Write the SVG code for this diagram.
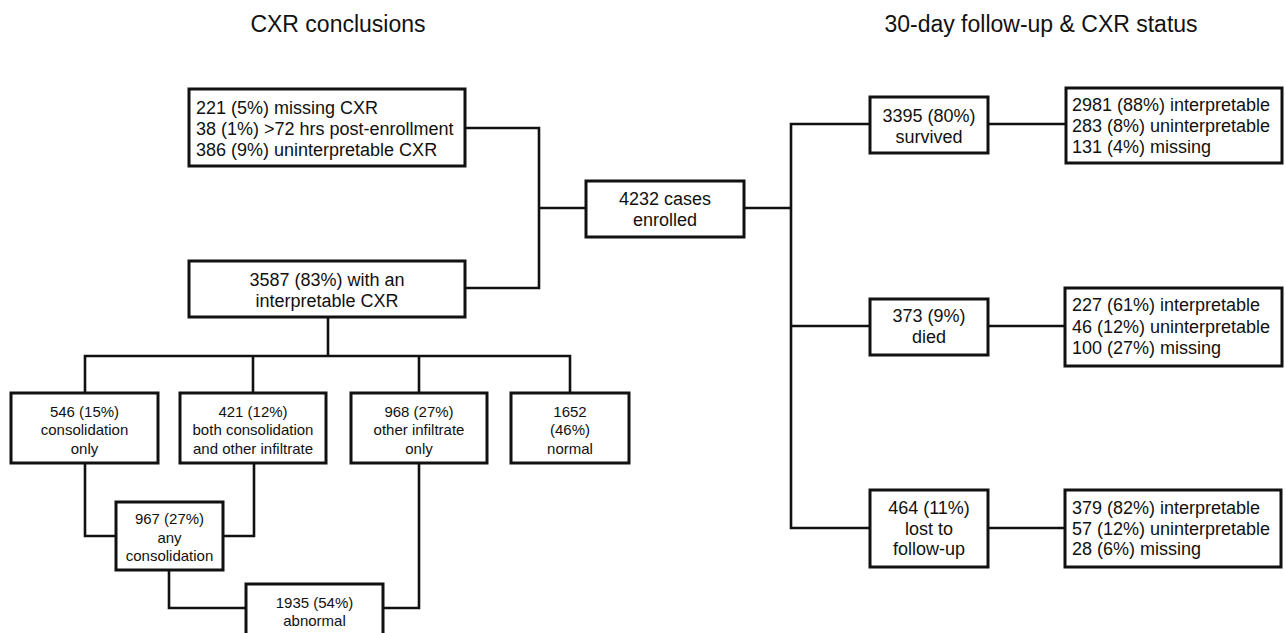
<svg xmlns="http://www.w3.org/2000/svg" width="1285" height="633" viewBox="0 0 1285 633">
<style>
.box{fill:#fff;stroke:#111;stroke-width:3}
.ln{fill:none;stroke:#111;stroke-width:2.6}
text{font-family:"Liberation Sans",Arial,sans-serif;fill:#111;dominant-baseline:central}
.t{font-size:23px;text-anchor:middle}
.m{font-size:18px}
.c{text-anchor:middle}
.s{font-size:15px;text-anchor:middle}
</style>
<rect width="1285" height="633" fill="#fff"/>
<text class="t" x="338" y="24">CXR conclusions</text>
<text class="t" x="1041" y="24">30-day follow-up &amp; CXR status</text>
<g id="connectors">
<path class="ln" d="M465 128H539V288H465M539 208H586"/>
<path class="ln" d="M744 208H791M870 124H791V528H870M791 326H870"/>
<path class="ln" d="M988 124H1067M988 326H1065M988 528H1065"/>
<path class="ln" d="M328 317V356M85 393V356H570V393M253 356V393M419 356V393"/>
<path class="ln" d="M85 463V536H116M254 463V536H223M169 570V608H246M383 608H419V463"/>
</g>
<g id="missing"><rect class="box" x="189" y="89" width="276" height="77"/>
<text class="m" x="196" y="108">221 (5%) missing CXR</text>
<text class="m" x="196" y="129">38 (1%) &gt;72 hrs post-enrollment</text>
<text class="m" x="196" y="150">386 (9%) uninterpretable CXR</text></g>
<g id="interp"><rect class="box" x="189" y="261" width="276" height="56"/>
<text class="m c" x="327" y="280">3587 (83%) with an</text>
<text class="m c" x="327" y="301">interpretable CXR</text></g>
<g id="enrolled"><rect class="box" x="586" y="181" width="158" height="56"/>
<text class="m c" x="665" y="199">4232 cases</text>
<text class="m c" x="665" y="220">enrolled</text></g>
<g id="survived"><rect class="box" x="870" y="97" width="118" height="56"/>
<text class="m c" x="929" y="116">3395 (80%)</text>
<text class="m c" x="929" y="137">survived</text></g>
<g id="survived-cxr"><rect class="box" x="1066" y="88" width="216" height="75"/>
<text class="m" x="1072" y="105">2981 (88%) interpretable</text>
<text class="m" x="1072" y="126">283 (8%) uninterpretable</text>
<text class="m" x="1072" y="147">131 (4%) missing</text></g>
<g id="died"><rect class="box" x="870" y="299" width="118" height="56"/>
<text class="m c" x="929" y="316">373 (9%)</text>
<text class="m c" x="929" y="337">died</text></g>
<g id="died-cxr"><rect class="box" x="1065" y="288" width="217" height="78"/>
<text class="m" x="1072" y="305">227 (61%) interpretable</text>
<text class="m" x="1072" y="327">46 (12%) uninterpretable</text>
<text class="m" x="1072" y="348">100 (27%) missing</text></g>
<g id="lost"><rect class="box" x="870" y="490" width="118" height="77"/>
<text class="m c" x="929" y="508">464 (11%)</text>
<text class="m c" x="929" y="529">lost to</text>
<text class="m c" x="929" y="549">follow-up</text></g>
<g id="lost-cxr"><rect class="box" x="1065" y="490" width="216" height="77"/>
<text class="m" x="1072" y="508">379 (82%) interpretable</text>
<text class="m" x="1072" y="529">57 (12%) uninterpretable</text>
<text class="m" x="1072" y="549">28 (6%) missing</text></g>
<g id="consol"><rect class="box" x="11" y="393" width="147" height="70"/>
<text class="s" x="84.5" y="411">546 (15%)</text>
<text class="s" x="84.5" y="429">consolidation</text>
<text class="s" x="84.5" y="448">only</text></g>
<g id="both"><rect class="box" x="180" y="393" width="146" height="70"/>
<text class="s" x="253" y="411">421 (12%)</text>
<text class="s" x="253" y="429">both consolidation</text>
<text class="s" x="253" y="448">and other infiltrate</text></g>
<g id="other"><rect class="box" x="351" y="393" width="136" height="70"/>
<text class="s" x="419" y="411">968 (27%)</text>
<text class="s" x="419" y="429">other infiltrate</text>
<text class="s" x="419" y="448">only</text></g>
<g id="normal"><rect class="box" x="511" y="393" width="118" height="70"/>
<text class="s" x="570" y="411">1652</text>
<text class="s" x="570" y="429">(46%)</text>
<text class="s" x="570" y="448">normal</text></g>
<g id="anyconsol"><rect class="box" x="116" y="502" width="107" height="68"/>
<text class="s" x="169.5" y="518">967 (27%)</text>
<text class="s" x="169.5" y="537">any</text>
<text class="s" x="169.5" y="555">consolidation</text></g>
<g id="abnormal"><rect class="box" x="246" y="584" width="137" height="60"/>
<text class="s" x="314.5" y="602">1935 (54%)</text>
<text class="s" x="314.5" y="620">abnormal</text></g>
</svg>
